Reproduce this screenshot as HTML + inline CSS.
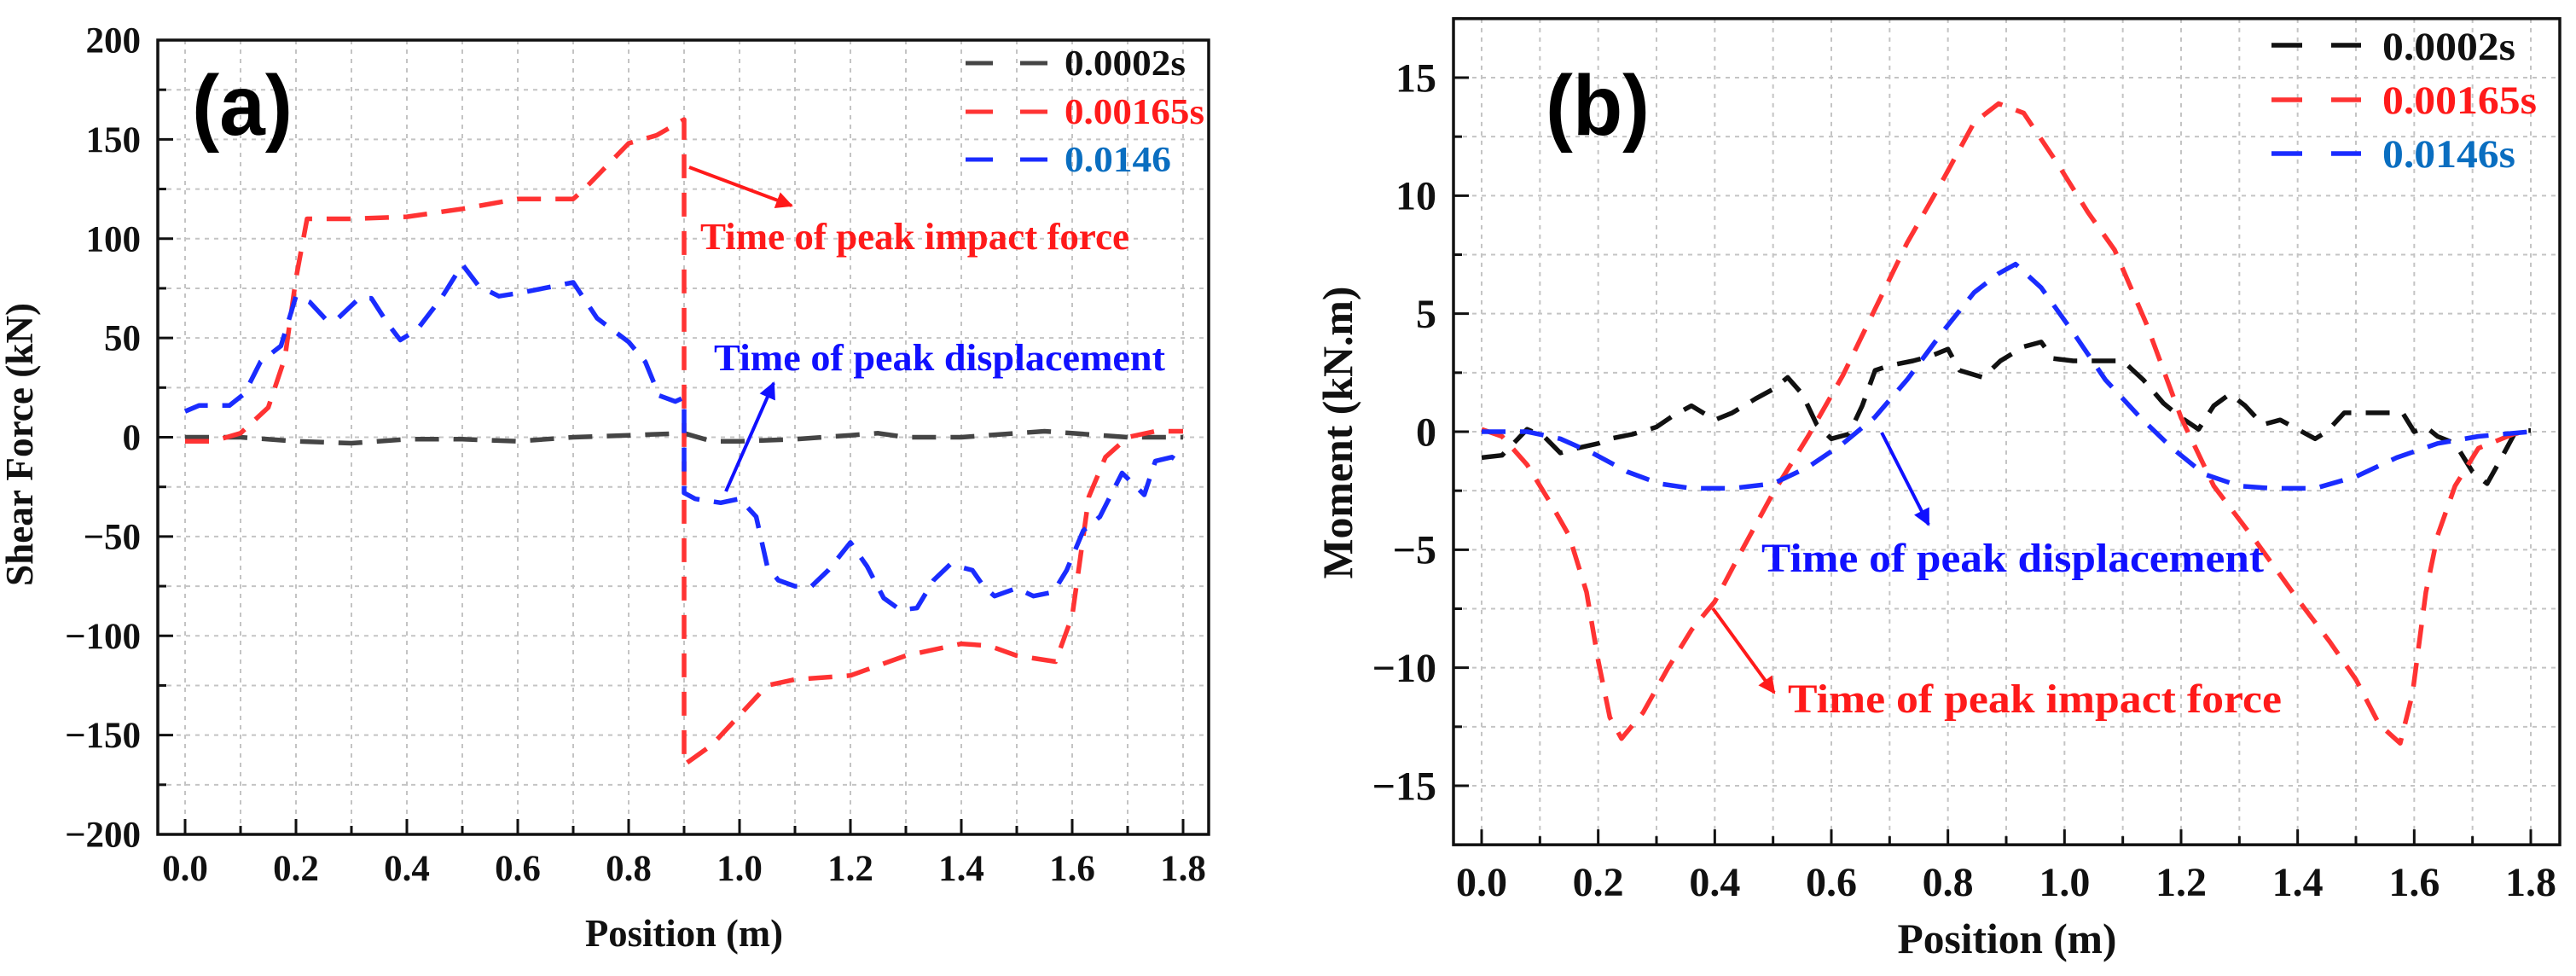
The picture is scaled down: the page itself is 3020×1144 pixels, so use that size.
<!DOCTYPE html>
<html><head><meta charset="utf-8">
<style>
html,body{margin:0;padding:0;background:#fff;}
svg{display:block;font-family:"Liberation Serif",serif;font-weight:bold;}
</style></head>
<body>
<svg id="fig" width="3020" height="1144" viewBox="0 0 3020 1144" xmlns="http://www.w3.org/2000/svg">
<g id="pa"></g>
<g id="pb"></g>
</svg>
<script>
// ---------- Panel (a) data ----------
const aX0002 = [0,0.1,0.2,0.3,0.4,0.5,0.6,0.7,0.8,0.9,0.95,1.0,1.1,1.2,1.25,1.3,1.4,1.5,1.55,1.6,1.7,1.8];
const aY0002 = [0,0,-2,-3,-1,-1,-2,0,1,2,-2,-2,-1,1,2,0,0,2,3,2,0,0];
const aX00165 = [0,0.05,0.1,0.15,0.18,0.2,0.22,0.3,0.4,0.5,0.6,0.7,0.72,0.8,0.85,0.9,0.9,0.95,1.0,1.05,1.1,1.2,1.3,1.4,1.45,1.5,1.57,1.6,1.63,1.66,1.7,1.75,1.8];
const aY00165 = [-2,-2,2,15,40,80,110,110,111,115,120,120,125,148,152,160,-165,-155,-140,-125,-122,-120,-110,-104,-105,-110,-113,-90,-30,-10,0,3,3];
const aX0146 = [0,0.025,0.08,0.107,0.136,0.173,0.2,0.225,0.255,0.276,0.314,0.336,0.366,0.388,0.418,0.462,0.5,0.53,0.566,0.61,0.7,0.743,0.8,0.83,0.855,0.884,0.9,0.9,0.92,0.966,1.0,1.03,1.05,1.07,1.1,1.13,1.16,1.2,1.23,1.26,1.29,1.32,1.35,1.38,1.42,1.44,1.46,1.5,1.53,1.566,1.59,1.62,1.65,1.69,1.73,1.75,1.78,1.8];
const aY0146 = [13,16,16,22,38,46,71,68,59,60,70,70,57,49,54,70,87,76,71,73,78,60,48,38,21,18,20,-28,-31,-33,-31,-40,-65,-72,-75,-75,-67,-53,-65,-81,-87,-86,-72,-64,-67,-75,-80,-76,-80,-78,-67,-47,-40,-18,-29,-12,-10,-14];
const aXTicks = ["0.0","0.2","0.4","0.6","0.8","1.0","1.2","1.4","1.6","1.8"];
const aYTicks = ["200","150","100","50","0","\u221250","\u2212100","\u2212150","\u2212200"];

// ---------- Panel (b) data ----------
const bX0002 = [0,0.035,0.078,0.107,0.135,0.163,0.2,0.22,0.26,0.3,0.33,0.36,0.4,0.43,0.47,0.5,0.525,0.55,0.575,0.6,0.63,0.653,0.675,0.7,0.74,0.77,0.8,0.82,0.86,0.89,0.93,0.96,0.98,1.015,1.06,1.1,1.135,1.17,1.2,1.23,1.256,1.284,1.31,1.34,1.37,1.4,1.43,1.45,1.48,1.52,1.58,1.6,1.62,1.64,1.67,1.7,1.725,1.75,1.775,1.8];
const bY0002 = [-1.1,-1,0.1,-0.2,-0.9,-0.7,-0.5,-0.3,-0.1,0.2,0.7,1.1,0.5,0.8,1.4,1.8,2.3,1.6,0.3,-0.3,-0.1,1.1,2.6,2.8,3.0,3.2,3.5,2.6,2.3,3.0,3.6,3.8,3.1,3.0,3.0,3.0,2.2,1.2,0.6,0.1,1.1,1.6,1.1,0.3,0.5,0.1,-0.3,0,0.8,0.8,0.8,0,0.2,-0.2,-0.5,-1.7,-2.2,-1.1,0.05,0.05];
const bX00165 = [0,0.035,0.078,0.12,0.15,0.18,0.2,0.22,0.24,0.277,0.32,0.36,0.4,0.447,0.5,0.56,0.62,0.675,0.73,0.79,0.845,0.887,0.93,0.987,1.04,1.086,1.14,1.2,1.256,1.33,1.4,1.455,1.5,1.54,1.576,1.597,1.62,1.64,1.67,1.71,1.77,1.8];
const bY00165 = [0.1,-0.2,-1.4,-3.1,-4.4,-6.8,-9.7,-12.1,-13.0,-11.9,-10.0,-8.4,-7.2,-5,-2.6,-0.2,2.4,5.2,8,10.6,13.1,13.9,13.5,11.4,9.3,7.7,4.6,0.6,-2.3,-4.7,-7.1,-8.9,-10.5,-12.4,-13.2,-11.1,-6.8,-4.4,-2.3,-0.7,-0.1,0.05];
const bX0146 = [0,0.078,0.135,0.19,0.25,0.305,0.36,0.43,0.5,0.56,0.62,0.674,0.73,0.79,0.845,0.887,0.916,0.96,1.015,1.07,1.13,1.185,1.24,1.3,1.355,1.43,1.5,1.57,1.64,1.71,1.8];
const bY0146 = [0,0,-0.3,-0.9,-1.7,-2.2,-2.4,-2.4,-2.2,-1.5,-0.5,0.6,2.2,4.2,5.9,6.7,7.1,6.1,4.2,2.2,0.6,-0.7,-1.8,-2.3,-2.4,-2.4,-1.9,-1.1,-0.5,-0.2,0];
const bXTicks = ["0.0","0.2","0.4","0.6","0.8","1.0","1.2","1.4","1.6","1.8"];
const bYTicks = ["15","10","5","0","\u22125","\u221210","\u221215"];

const NS = "http://www.w3.org/2000/svg";
function mk(parent, tag, attrs, text){
  const e = document.createElementNS(NS, tag);
  for (const k in attrs) e.setAttribute(k, attrs[k]);
  if (text !== undefined) e.textContent = text;
  parent.appendChild(e);
  return e;
}

function panel(g, cfg){
  const sx = v => cfg.px0 + (v - cfg.x0) * (cfg.px1 - cfg.px0) / (cfg.x1 - cfg.x0);
  const sy = v => cfg.py0 + (cfg.y0 - v) * (cfg.py1 - cfg.py0) / (cfg.y0 - cfg.y1);
  const L = cfg.L, R = cfg.R, T = sy(cfg.yMax), B = sy(cfg.yMin);
  const grid = mk(g, 'g', {});
  
  
  for (let v = 0; v <= 1.8001; v += 0.1) {
    const x = sx(v);
    mk(grid, 'line', {x1:x, x2:x, y1:T, y2:B, stroke:'#c4c4c4', 'stroke-width':2, 'stroke-dasharray':'5,6'});
  }
  for (let v = cfg.yMin + cfg.minor; v < cfg.yMax - 0.001; v += cfg.minor) {
    const y = sy(v);
    mk(grid, 'line', {x1:L, x2:R, y1:y, y2:y, stroke:'#c4c4c4', 'stroke-width':2, 'stroke-dasharray':'5,6'});
  }
  const ticks = mk(g, 'g', {stroke:'#111', 'stroke-width':3});
  
  
  for (let i = 0; i <= 18; i++) {
    const x = sx(i * 0.1); const len = i % 2 === 0 ? 18 : 10;
    mk(ticks, 'line', {x1:x, x2:x, y1:B, y2:B - len});
  }
  for (let v = cfg.yMin; v <= cfg.yMax + 0.001; v += cfg.minor) {
    const y = sy(v);
    if (y < T - 1 || y > B + 1) continue;
    const major = Math.abs(v / cfg.major - Math.round(v / cfg.major)) < 0.01;
    mk(ticks, 'line', {x1:L, x2:L + (major ? 18 : 10), y1:y, y2:y});
  }
  cfg.series.forEach(s => {
    let d = '';
    s.xs.forEach((xv, i) => { d += (i ? 'L' : 'M') + sx(xv).toFixed(1) + ',' + sy(s.ys[i]).toFixed(1); });
    const p = mk(g, 'path', {d:d, fill:'none', stroke:s.color, 'stroke-width':5.5, 'stroke-dasharray':'28,17', 'stroke-linejoin':'round'});
    
    
  });
  const fr = mk(g, 'rect', {x:L, y:T, width:R - L, height:B - T, fill:'none', stroke:'#111', 'stroke-width':3.5});
  
  
  cfg.xTicks.forEach((t, i) => {
    const e = mk(g, 'text', {x:sx(i * 0.2), y:cfg.xLabY, 'text-anchor':'middle', 'font-size':cfg.tf, fill:'#111'}, t);
    
    
  });
  cfg.yTicks.forEach((t, i) => {
    const v = cfg.yTop - i * cfg.major;
    const e = mk(g, 'text', {x:cfg.yLabX, y:sy(v) + cfg.tf * 0.34, 'text-anchor':'end', 'font-size':cfg.tf, fill:'#111'}, t);
    
    
  });
  return {sx, sy};
}

const ga = document.getElementById('pa');
panel(ga, {px0:217, px1:1387, x0:0, x1:1.8, py0:47, py1:978, y0:200, y1:-200, L:185, R:1417, yMin:-200, yMax:200, minor:25, major:50, yTop:200,
  xTicks:aXTicks, yTicks:aYTicks, xLabY:1032, yLabX:165, tf:43,
  series:[
    {xs:aX0002, ys:aY0002, color:'#454545', name:'series-0.0002s'},
    {xs:aX00165, ys:aY00165, color:'#ff3333', name:'series-0.00165s'},
    {xs:aX0146, ys:aY0146, color:'#1a2cff', name:'series-0.0146'}
  ]});
const gb = document.getElementById('pb');
panel(gb, {px0:1737, px1:2967, x0:0, x1:1.8, py0:91, py1:921, y0:15, y1:-15, L:1704, R:3001, yMin:-17.5, yMax:17.5, minor:2.5, major:5, yTop:15,
  xTicks:bXTicks, yTicks:bYTicks, xLabY:1050, yLabX:1684, tf:48,
  series:[
    {xs:bX0002, ys:bY0002, color:'#111111', name:'series-0.0002s'},
    {xs:bX00165, ys:bY00165, color:'#ff3333', name:'series-0.00165s'},
    {xs:bX0146, ys:bY0146, color:'#1a2cff', name:'series-0.0146s'}
  ]});
</script>
<svg style="position:absolute;left:0;top:0" width="3020" height="1144" viewBox="0 0 3020 1144" xmlns="http://www.w3.org/2000/svg">
<defs>
<marker id="ar" viewBox="0 0 10 10" refX="9" refY="5" markerWidth="5" markerHeight="5" orient="auto"><path d="M0,0 L10,5 L0,10 z" fill="#ff1a1a"/></marker>
<marker id="ab" viewBox="0 0 10 10" refX="9" refY="5" markerWidth="5" markerHeight="5" orient="auto"><path d="M0,0 L10,5 L0,10 z" fill="#1010ff"/></marker>
</defs>
<g font-family="Liberation Serif, serif" font-weight="bold">
<text x="225" y="158" font-family="Liberation Sans, sans-serif" font-size="100" textLength="118" lengthAdjust="spacingAndGlyphs" fill="#000">(a)</text>
<text x="30" y="513" font-size="45" text-anchor="middle" transform="rotate(-90 38 513)" textLength="332" lengthAdjust="spacingAndGlyphs" fill="#111">Shear Force (kN)</text>
<text x="802" y="1109" font-size="46" text-anchor="middle" textLength="232" lengthAdjust="spacingAndGlyphs" fill="#111">Position (m)</text>
<g>
<line x1="1132" x2="1228" y1="74" y2="74" stroke="#454545" stroke-width="5" stroke-dasharray="32,32"/>
<text x="1248" y="88" font-size="42" textLength="142" lengthAdjust="spacingAndGlyphs" fill="#111">0.0002s</text>
<line x1="1132" x2="1228" y1="131" y2="131" stroke="#ff3333" stroke-width="5" stroke-dasharray="32,32"/>
<text x="1248" y="145" font-size="42" textLength="164" lengthAdjust="spacingAndGlyphs" fill="#ff1a1a">0.00165s</text>
<line x1="1132" x2="1228" y1="187" y2="187" stroke="#1a2cff" stroke-width="5" stroke-dasharray="32,32"/>
<text x="1248" y="201" font-size="42" textLength="125" lengthAdjust="spacingAndGlyphs" fill="#0a6ec0">0.0146</text>
</g>
<line x1="808" y1="196" x2="928" y2="241" stroke="#ff1a1a" stroke-width="4" marker-end="url(#ar)"/>
<text x="821" y="292" font-size="44" textLength="503" lengthAdjust="spacingAndGlyphs" fill="#ff1a1a">Time of peak impact force</text>
<line x1="851" y1="576" x2="907" y2="449" stroke="#1010ff" stroke-width="4" marker-end="url(#ab)"/>
<text x="837" y="434" font-size="44" textLength="529" lengthAdjust="spacingAndGlyphs" fill="#1010ff">Time of peak displacement</text>
<text x="1812" y="158" font-family="Liberation Sans, sans-serif" font-size="100" textLength="122" lengthAdjust="spacingAndGlyphs" fill="#000">(b)</text>
<text x="1568" y="524" font-size="50" text-anchor="middle" transform="rotate(-90 1568 507)" textLength="343" lengthAdjust="spacingAndGlyphs" fill="#111">Moment (kN.m)</text>
<text x="2353" y="1117" font-size="50" text-anchor="middle" textLength="257" lengthAdjust="spacingAndGlyphs" fill="#111">Position (m)</text>
<g>
<line x1="2663" x2="2768" y1="53" y2="53" stroke="#111" stroke-width="5.5" stroke-dasharray="36,34"/>
<text x="2793" y="70" font-size="47" textLength="156" lengthAdjust="spacingAndGlyphs" fill="#111">0.0002s</text>
<line x1="2663" x2="2768" y1="117" y2="117" stroke="#ff3333" stroke-width="5.5" stroke-dasharray="36,34"/>
<text x="2793" y="133" font-size="47" textLength="181" lengthAdjust="spacingAndGlyphs" fill="#ff1a1a">0.00165s</text>
<line x1="2663" x2="2768" y1="180" y2="180" stroke="#1a2cff" stroke-width="5.5" stroke-dasharray="36,34"/>
<text x="2793" y="196" font-size="47" textLength="156" lengthAdjust="spacingAndGlyphs" fill="#0a6ec0">0.0146s</text>
</g>
<line x1="2206" y1="507" x2="2261" y2="615" stroke="#1010ff" stroke-width="4" marker-end="url(#ab)"/>
<text x="2065" y="670" font-size="48" textLength="589" lengthAdjust="spacingAndGlyphs" fill="#1010ff">Time of peak displacement</text>
<line x1="2008" y1="713" x2="2080" y2="812" stroke="#ff1a1a" stroke-width="4" marker-end="url(#ar)"/>
<text x="2096" y="835" font-size="48" textLength="579" lengthAdjust="spacingAndGlyphs" fill="#ff1a1a">Time of peak impact force</text>
</g>
</svg>
</body></html>
